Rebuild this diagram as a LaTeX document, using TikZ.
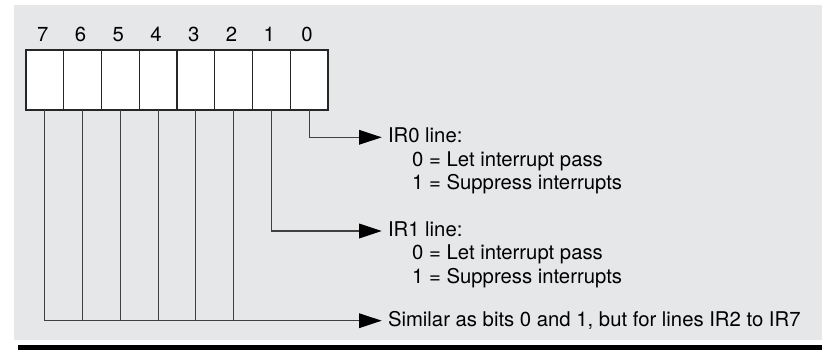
\documentclass[tikz,border=0pt]{standalone}
\usepackage{fontspec}
\setmainfont{TeX Gyre Heros}
\usetikzlibrary{arrows.meta}
\definecolor{bgc}{HTML}{E6E7E8}
\tikzset{
  cell/.style={draw=black!85, line width=1.1pt, fill=white, minimum width=37.75pt, minimum height=60pt, inner sep=0, outer sep=0},
  digit/.style={inner sep=0, font=\fontsize{20.3}{24}\selectfont},
  head/.style={anchor=west, inner sep=0, outer xsep=6.3pt, text height=14.5pt, text depth=3.7pt, font=\fontsize{20.3}{24}\selectfont},
  sub/.style={anchor=base west, inner sep=0, font=\fontsize{20.3}{24}\selectfont},
  conn/.style={draw=black!75, line width=1.1pt},
  arr/.style={conn, -{Triangle[length=22.7pt, width=14.7pt, color=black, fill=black]}},
}
\begin{document}
\begin{tikzpicture}[x=1pt, y=-1pt]
\useasboundingbox (0,0) rectangle (822,350);
\fill[bgc] (14,5) rectangle (822,340);
\fill[black] (18,345) rectangle (822,350);
% register cells
\foreach \i in {7,...,0} {
  \pgfmathsetmacro{\cx}{26 + 37.75*(7-\i) + 18.875}
  \node[cell] (c\i) at (\cx,80) {};
  \node[digit] (d\i) at (\cx-2,34.2) {\i};
}
% texts
\node[head] (ir0) at (381.7,137.3) {IR0 line:};
\node[sub] (ir0a) at (412,166.2) {0 = Let interrupt pass};
\node[sub] (ir0b) at (412,189.7) {1 = Suppress interrupts};
\node[head] (ir1) at (381.7,231) {IR1 line:};
\node[sub] (ir1a) at (412,259.9) {0 = Let interrupt pass};
\node[sub] (ir1b) at (412,283.4) {1 = Suppress interrupts};
\node[head] (sim) at (381.7,320.7) {Similar as bits 0 and 1, but for lines IR2 to IR7};
% connectors
\draw[arr] (c0.south) |- (ir0.west);
\draw[arr] (c1.south) |- (ir1.west);
\draw[arr] (c7.south) |- (sim.west);
\foreach \i in {6,...,2} {
  \draw[conn] (c\i.south) -- (c\i.south |- sim.west);
}
\end{tikzpicture}
\end{document}
